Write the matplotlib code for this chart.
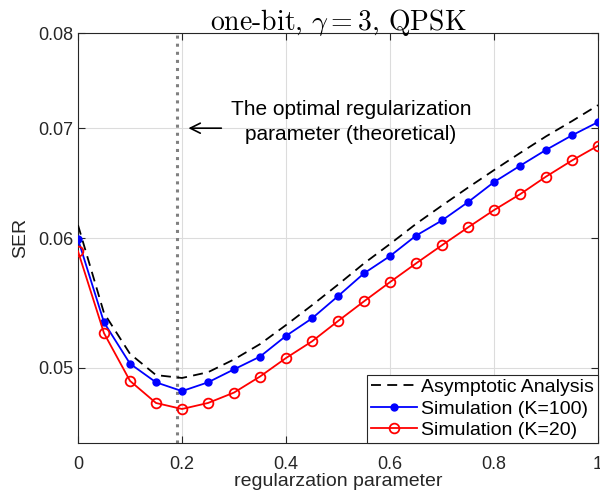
import numpy as np
from matplotlib import pyplot as plt
from matplotlib.ticker import NullLocator, FixedLocator, FixedFormatter

plt.rcParams['font.family'] = ['Liberation Sans', 'DejaVu Sans']
plt.rcParams['mathtext.fontset'] = 'cm'

# regularization parameter grid
reg = [0.00, 0.05, 0.10, 0.15, 0.20, 0.25, 0.30, 0.35, 0.40, 0.45, 0.50,
       0.55, 0.60, 0.65, 0.70, 0.75, 0.80, 0.85, 0.90, 0.95, 1.00]

ser_asym = [0.0611, 0.0540, 0.0510, 0.0495, 0.0493, 0.0497, 0.0506, 0.0517,
            0.0531, 0.0546, 0.0562, 0.0579, 0.0595, 0.0612, 0.0628, 0.0644,
            0.0660, 0.0676, 0.0692, 0.0707, 0.0723]
ser_k100 = [0.0599, 0.0533, 0.0503, 0.0490, 0.0484, 0.0490, 0.0499, 0.0508,
            0.0523, 0.0536, 0.0553, 0.0571, 0.0585, 0.0602, 0.0615, 0.0631,
            0.0649, 0.0664, 0.0679, 0.0693, 0.0706]
ser_k20 = [0.0589, 0.0525, 0.0491, 0.0476, 0.0472, 0.0476, 0.0483, 0.0494,
           0.0507, 0.0519, 0.0534, 0.0549, 0.0564, 0.0579, 0.0594, 0.0609,
           0.0624, 0.0638, 0.0654, 0.0669, 0.0683]

opt_reg = 0.19

xticks = [0, 0.2, 0.4, 0.6, 0.8, 1]
xtick_labels = ['0', '0.2', '0.4', '0.6', '0.8', '1']
yticks = [0.05, 0.06, 0.07, 0.08]
ytick_labels = ['0.05', '0.06', '0.07', '0.08']

fig = plt.figure(figsize=(6, 4.93), dpi=100)
ax = fig.add_axes([0.13, 0.1014, 0.8667, 0.8316])

ax.axvline(opt_reg, color='#808080', linestyle=':', linewidth=2.2, zorder=1)
ax.plot(reg, ser_asym, color='black', linestyle=(0, (5.5, 3.5)), linewidth=1.3,
        label='Asymptotic Analysis', zorder=3)
ax.plot(reg, ser_k100, color='blue', marker='o', markersize=5, linewidth=1.3,
        label='Simulation (K=100)', zorder=4)
ax.plot(reg, ser_k20, color='red', marker='o', markersize=7, markerfacecolor='none',
        markeredgewidth=1.3, linewidth=1.3, label='Simulation (K=20)', zorder=4)

ax.set_yscale('log')
ax.set_xlim(0, 1)
ax.set_ylim(0.045, 0.08)
ax.xaxis.set_major_locator(FixedLocator(xticks))
ax.xaxis.set_major_formatter(FixedFormatter(xtick_labels))
ax.yaxis.set_major_locator(FixedLocator(yticks))
ax.yaxis.set_major_formatter(FixedFormatter(ytick_labels))
ax.yaxis.set_minor_locator(NullLocator())
ax.tick_params(direction='in', length=5, width=0.8, colors='#262626', labelsize=13,
               top=True, right=True)
ax.tick_params(axis='x', pad=9)
for s in ax.spines.values():
    s.set_color('#262626')
    s.set_linewidth(0.8)
ax.grid(True, color='#dcdcdc', linewidth=0.8)
ax.set_axisbelow(True)

ax.annotate('', xy=(0.207, 0.07), xytext=(0.281, 0.07),
            arrowprops=dict(arrowstyle='->', color='black', lw=1.2, mutation_scale=18))
ax.text(0.525, 0.0706, 'The optimal regularization\nparameter (theoretical)',
        ha='center', va='center', fontsize=15, linespacing=1.35)

ax.set_xlabel('regularzation parameter', fontsize=14, color='#262626', labelpad=0)
ax.set_ylabel('SER', fontsize=14, color='#262626', labelpad=6)
ax.set_title(r'$\text{one-bit, }\gamma=3\text{, QPSK}$', fontsize=20, pad=2)

leg = ax.legend(loc='lower right', fontsize=14, frameon=True, fancybox=False,
                borderaxespad=0, handlelength=2.4, handletextpad=0.2,
                borderpad=0.2, labelspacing=0.2)
leg.get_frame().set_edgecolor('#262626')
leg.get_frame().set_linewidth(0.8)
leg.get_frame().set_alpha(1)

fig.savefig('out.png', dpi=100)
